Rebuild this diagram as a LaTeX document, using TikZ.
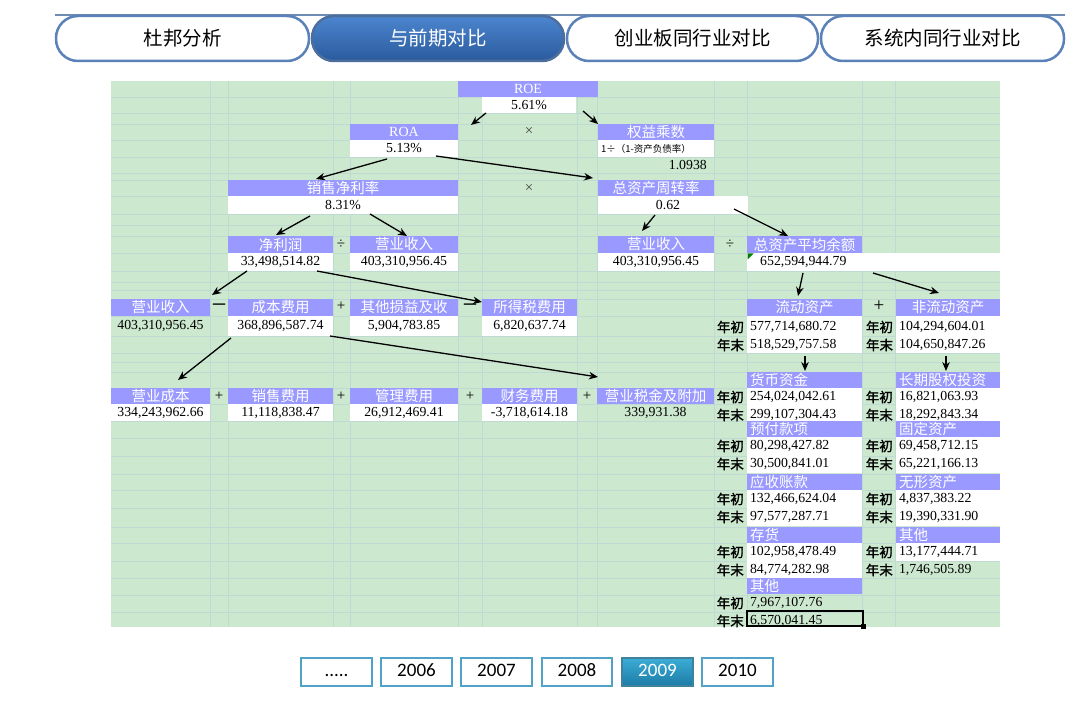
\documentclass[tikz,border=0pt]{standalone}
\usepackage{fontspec}
\setmainfont{Liberation Serif}
\newfontfamily\cjk{Noto Sans CJK SC}
\newfontfamily\cjkb[FakeBold=1.5]{Noto Sans CJK SC}
\newfontfamily\uifont{Carlito}
\usetikzlibrary{arrows.meta,calc}
\definecolor{bgg}{RGB}{204,232,207}
\definecolor{gridc}{RGB}{191,218,210}
\definecolor{hdrc}{RGB}{153,153,255}
\definecolor{tabc}{RGB}{90,130,185}
\definecolor{tabtop}{RGB}{76,134,206}
\definecolor{tabbot}{RGB}{42,90,158}
\definecolor{ybc}{RGB}{80,163,196}
\definecolor{ybtop}{RGB}{60,172,214}
\definecolor{ybbot}{RGB}{28,124,166}
\definecolor{topline}{RGB}{110,140,180}
\definecolor{opgray}{RGB}{70,70,70}
\newcommand\hdrfont{\cjk\fontsize{14.5}{15}\selectfont}
\newcommand\valfont{\fontsize{13.8}{14}\selectfont}
\newcommand\lblfont{\cjkb\fontsize{13.5}{14}\selectfont}
\newcommand\opfont{\fontsize{15}{15}\selectfont}
\newcommand\mkcell[7]{\node[#1,minimum width={(#5)-(#3)},minimum height={(#6)-(#4)}] (#2) at ({((#3)+(#5))/2},{((#4)+(#6))/2}) {#7};}
\newcommand\blk[9]{%
 \mkcell{hdr}{#1h}{#2}{#4}{#3}{#4+16}{}%
 \node[htxt,anchor=west] (#1ht) at ($(#1h.west)+(3,0)$) {#5};%
 \mkcell{#8}{#1a}{#2}{#4+16}{#3}{#4+34}{}%
 \mkcell{#9}{#1b}{#2}{#4+34}{#3}{#4+52}{}%
 \node[vtxt,anchor=west] (#1at) at ($(#1a.west)+(3,0)$) {#6};%
 \node[vtxt,anchor=west] (#1bt) at ($(#1b.west)+(3,0)$) {#7};%
 \node[lbl] (#1al) at ($(#1a.west)+(-16.5,0)$) {年初};%
 \node[lbl] (#1bl) at ($(#1b.west)+(-16.5,0)$) {年末};%
}
\begin{document}
\begin{tikzpicture}[x=1pt,y=-1pt,
 hdr/.style={fill=hdrc,text=white,inner sep=0pt,font=\hdrfont},
 wcell/.style={fill=white,inner sep=0pt,font=\valfont},
 gcell/.style={inner sep=0pt,font=\valfont},
 htxt/.style={text=white,inner sep=0pt,font=\hdrfont},
 vtxt/.style={inner sep=0pt,font=\valfont},
 lbl/.style={inner sep=0pt,font=\lblfont},
 op/.style={inner sep=0pt,font=\opfont},
 timessign/.style={inner sep=0pt,text=opgray,font=\fontsize{15}{15}\selectfont},
 minussign/.style={inner sep=0pt,font=\cjkb\fontsize{15}{15}\selectfont},
 arr/.style={line width=1.3pt,-{Stealth[length=9pt,width=7.5pt]}},
 tabbox/.style={draw=tabc,line width=2.5pt,rounded corners=22pt,fill=white,inner sep=0pt,font=\cjk\fontsize{19.5}{20}\selectfont},
 ybox/.style={draw=ybc,line width=2.5pt,fill=white,inner sep=0pt,text height=12.5pt,text depth=3pt,font=\uifont\fontsize{19}{19}\selectfont}
]
\fill[white] (0,0) rectangle (1090,703);
\useasboundingbox (0,0) rectangle (1090,703);

% ---- tabs ----
\draw[topline,line width=1.5pt] (55,15) -- (1065,15);
\mkcell{tabbox}{t1}{56}{16}{309}{61}{杜邦分析}
\mkcell{tabbox,top color=tabtop,bottom color=tabbot,text=white,draw=tabc!85!black}{t2}{312}{16}{564}{61}{与前期对比}
\mkcell{tabbox}{t3}{567}{16}{818}{61}{创业板同行业对比}
\mkcell{tabbox}{t4}{821}{16}{1064}{61}{系统内同行业对比}

% ---- sheet background and grid ----
\fill[bgg] (111,81) rectangle (1000,627);
\foreach \gx in {210,228,333,350,458,482,577,597,714,747,862,895}
  \draw[gridc,line width=0.6pt] (\gx,81) -- (\gx,627);
\foreach \gy in {97,113,124,140,157,173,180,196,214,225,236,253,271,282,290,299,316,336,353,362,372,388,404,421,438,456,474,490,508,527,543,561,578,595,612}
  \draw[gridc,line width=0.6pt] (111,\gy) -- (1000,\gy);

% ---- top part ----
\mkcell{hdr,font=\fontsize{14}{14}\selectfont}{roeh}{458}{81}{598}{97}{ROE}
\mkcell{wcell}{roev}{482}{97}{576}{113}{5.61\%}
\mkcell{hdr,font=\fontsize{14}{14}\selectfont}{roah}{350}{124}{458}{140}{ROA}
\mkcell{wcell}{roav}{350}{140}{458}{157}{5.13\%}
\node[timessign] (x1) at (529,131) {×};
\mkcell{hdr}{qyh}{598}{124}{714}{140}{权益乘数}
\mkcell{wcell}{qyv}{598}{140}{714}{157}{}
\node[inner sep=0pt,anchor=west,font=\cjk\fontsize{9.5}{10}\selectfont] (qyf) at ($(qyv.west)+(3,0)$) {1÷（1-资产负债率）};
\node[vtxt,anchor=east] (qyn) at (707,165) {1.0938};
\mkcell{hdr}{xsh}{228}{180}{458}{196}{销售净利率}
\mkcell{wcell}{xsv}{228}{196}{458}{214}{8.31\%}
\node[timessign] (x2) at (529,188) {×};
\mkcell{hdr}{zzh}{598}{180}{714}{196}{总资产周转率}
\mkcell{wcell}{zzv}{598}{196}{748}{214}{}
\node[vtxt] (zzt) at (668,205) {0.62};
\mkcell{hdr}{jlh}{228}{236}{333}{253}{净利润}
\mkcell{wcell}{jlv}{228}{253}{333}{271}{33,498,514.82}
\node[op] (d1) at (341,244) {÷};
\mkcell{hdr}{ys1h}{350}{236}{458}{253}{营业收入}
\mkcell{wcell}{ys1v}{350}{253}{458}{271}{403,310,956.45}
\mkcell{hdr}{ys2h}{598}{236}{714}{253}{营业收入}
\mkcell{wcell}{ys2v}{598}{253}{714}{271}{403,310,956.45}
\node[op] (d2) at (730,244) {÷};
\mkcell{hdr}{zch}{747}{236}{862}{253}{总资产平均余额}
\mkcell{wcell}{zcv}{747}{253}{1000}{271}{}
\node[vtxt,anchor=west] (zct) at (760,262) {652,594,944.79};
\fill[green!50!black] (747.5,253.5) -- (753.5,253.5) -- (747.5,259.5) -- cycle;

% ---- third row ----
\mkcell{hdr}{ys3h}{111}{299}{210}{316}{营业收入}
\mkcell{gcell}{ys3v}{111}{316}{210}{336}{403,310,956.45}
\node[minussign] (m1) at (219,306) {—};
\mkcell{hdr}{cbh}{228}{299}{333}{316}{成本费用}
\mkcell{wcell}{cbv}{228}{316}{333}{336}{368,896,587.74}
\node[op] (pa) at (341,306) {+};
\mkcell{hdr}{qth}{350}{299}{458}{316}{其他损益及收}
\mkcell{wcell}{qtv}{350}{316}{458}{336}{5,904,783.85}
\node[minussign] (m2) at (470,306) {—};
\mkcell{hdr}{sdh}{482}{299}{577}{316}{所得税费用}
\mkcell{wcell}{sdv}{482}{316}{577}{336}{6,820,637.74}

% ---- fourth row ----
\mkcell{hdr}{ych}{111}{388}{210}{404}{营业成本}
\mkcell{wcell}{ycv}{111}{404}{210}{421}{334,243,962.66}
\node[op] (pb) at (219,396) {+};
\mkcell{hdr}{xfh}{228}{388}{333}{404}{销售费用}
\mkcell{wcell}{xfv}{228}{404}{333}{421}{11,118,838.47}
\node[op] (pc) at (341,396) {+};
\mkcell{hdr}{glh}{350}{388}{458}{404}{管理费用}
\mkcell{wcell}{glv}{350}{404}{458}{421}{26,912,469.41}
\node[op] (pd) at (470,396) {+};
\mkcell{hdr}{cwh}{482}{388}{577}{404}{财务费用}
\mkcell{wcell}{cwv}{482}{404}{577}{421}{-3,718,614.18}
\node[op] (pe) at (587,396) {+};
\mkcell{hdr}{yssh}{597}{388}{714}{404}{营业税金及附加}
\mkcell{gcell}{yssv}{597}{404}{714}{421}{339,931.38}

% ---- right part ----
\mkcell{hdr}{ldh}{747}{299}{862}{316}{流动资产}
\mkcell{wcell}{ldv}{747}{316}{862}{353}{}
\node[vtxt,anchor=west] (ld1) at (750,327) {577,714,680.72};
\node[vtxt,anchor=west] (ld2) at (750,345) {518,529,757.58};
\node[lbl] (ldl1) at (730.5,327) {年初};
\node[lbl] (ldl2) at (730.5,345) {年末};
\node[op,font=\fontsize{19}{19}\selectfont] (pf) at (879,306) {+};
\mkcell{hdr}{fldh}{896}{299}{1000}{316}{非流动资产}
\mkcell{wcell}{fldv}{896}{316}{1000}{353}{}
\node[vtxt,anchor=west] (fld1) at (899,327) {104,294,604.01};
\node[vtxt,anchor=west] (fld2) at (899,345) {104,650,847.26};
\node[lbl] (fldl1) at (879.5,327) {年初};
\node[lbl] (fldl2) at (879.5,345) {年末};

\blk{hb}{747}{862}{372}{货币资金}{254,024,042.61}{299,107,304.43}{wcell}{wcell}
\blk{yf}{747}{862}{421}{预付款项}{80,298,427.82}{30,500,841.01}{wcell}{wcell}
\blk{ysz}{747}{862}{474}{应收账款}{132,466,624.04}{97,577,287.71}{wcell}{wcell}
\blk{chh}{747}{862}{527}{存货}{102,958,478.49}{84,774,282.98}{wcell}{wcell}
\blk{qa}{747}{862}{578}{其他}{7,967,107.76}{6,570,041.45}{gcell}{gcell}
\blk{cq}{896}{1000}{372}{长期股权投资}{16,821,063.93}{18,292,843.34}{wcell}{wcell}
\blk{gd}{896}{1000}{421}{固定资产}{69,458,712.15}{65,221,166.13}{wcell}{wcell}
\blk{wx}{896}{1000}{474}{无形资产}{4,837,383.22}{19,390,331.90}{wcell}{wcell}
\blk{qb}{896}{1000}{527}{其他}{13,177,444.71}{1,746,505.89}{wcell}{gcell}
\draw[line width=2pt] (747,611) rectangle (863,626);
\fill (860.5,623.5) rectangle (865.5,628.5);

% ---- arrows ----
\coordinate (a1s) at (486,113); \coordinate (a1e) at (471,125);
\coordinate (a2s) at (583,111); \coordinate (a2e) at (598,124);
\coordinate (a3s) at (436,156); \coordinate (a3e) at (593,178);
\coordinate (a4s) at (387,159); \coordinate (a4e) at (316,179);
\coordinate (a5s) at (310,216); \coordinate (a5e) at (276,235);
\coordinate (a6s) at (370,214); \coordinate (a6e) at (407,236);
\coordinate (a7s) at (655,215); \coordinate (a7e) at (642,231);
\coordinate (a8s) at (734,209); \coordinate (a8e) at (788,236);
\coordinate (a9s) at (247,271); \coordinate (a9e) at (212,295);
\coordinate (a10s) at (317,271); \coordinate (a10e) at (482,302);
\coordinate (a11s) at (231,338); \coordinate (a11e) at (178,380);
\coordinate (a12s) at (330,336); \coordinate (a12e) at (598,377);
\coordinate (a13s) at (803,273); \coordinate (a13e) at (798,296);
\coordinate (a14s) at (873,273); \coordinate (a14e) at (939,293);
\coordinate (a15s) at (805,356); \coordinate (a15e) at (805,371);
\coordinate (a16s) at (946,356); \coordinate (a16e) at (946,371);
\foreach \i in {1,...,16} \draw[arr] (a\i s) -- (a\i e);

% ---- year buttons ----
\mkcell{ybox}{y0}{301}{658}{372}{686}{.....}
\mkcell{ybox}{y6}{381}{658}{452}{686}{2006}
\mkcell{ybox}{y7}{461}{658}{532}{686}{2007}
\mkcell{ybox}{y8}{542}{658}{612}{686}{2008}
\mkcell{ybox,top color=ybtop,bottom color=ybbot,text=white,draw=ybc!80!black}{y9}{622}{658}{693}{686}{2009}
\mkcell{ybox}{y10}{702}{658}{773}{686}{2010}
\end{tikzpicture}
\end{document}
